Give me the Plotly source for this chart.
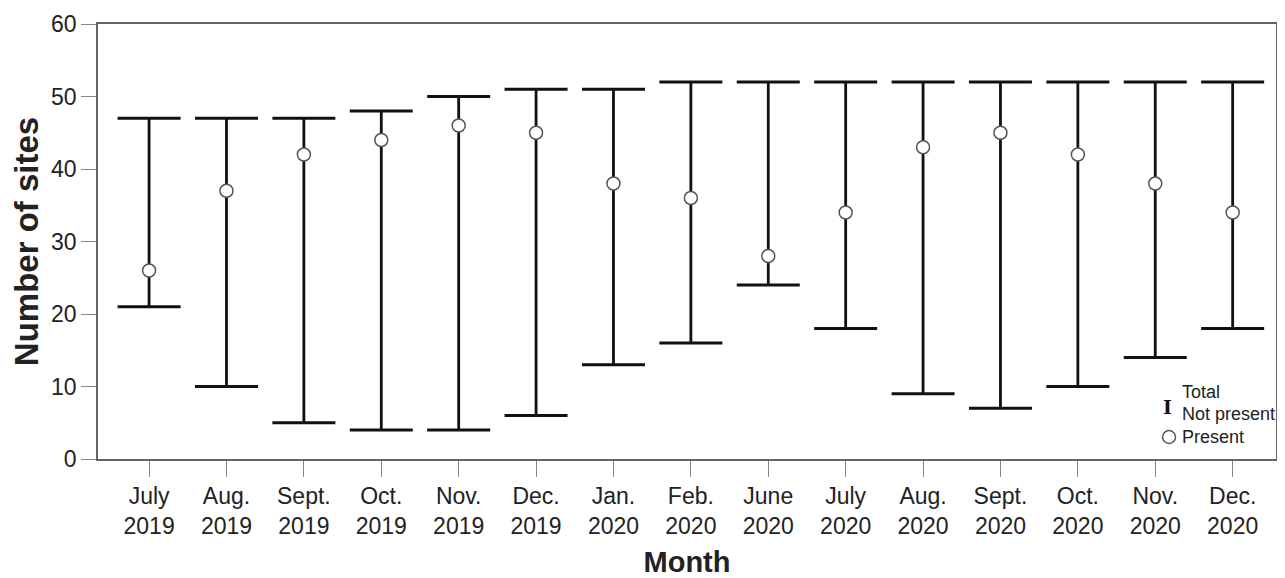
import plotly.graph_objects as go

months = ["July<br>2019", "Aug.<br>2019", "Sept.<br>2019", "Oct.<br>2019", "Nov.<br>2019",
          "Dec.<br>2019", "Jan.<br>2020", "Feb.<br>2020", "June<br>2020", "July<br>2020",
          "Aug.<br>2020", "Sept.<br>2020", "Oct.<br>2020", "Nov.<br>2020", "Dec.<br>2020"]
total = [47, 47, 47, 48, 50, 51, 51, 52, 52, 52, 52, 52, 52, 52, 52]
not_present = [21, 10, 5, 4, 4, 6, 13, 16, 24, 18, 9, 7, 10, 14, 18]
present = [26, 37, 42, 44, 46, 45, 38, 36, 28, 34, 43, 45, 42, 38, 34]
y_ticks = [0, 10, 20, 30, 40, 50, 60]

xs = list(range(len(months)))
up = [t - p for t, p in zip(total, present)]
down = [p - n for p, n in zip(present, not_present)]

font_family = "Liberation Sans, Arial, sans-serif"

fig = go.Figure()
fig.add_trace(go.Scatter(
    x=xs, y=present, mode="markers",
    marker=dict(size=1, color="rgba(0,0,0,0)"),
    error_y=dict(type="data", symmetric=False, array=up, arrayminus=down,
                 color="#111", thickness=2.8, width=31.5),
    showlegend=False, hoverinfo="skip"))
fig.add_trace(go.Scatter(
    x=xs, y=present, mode="markers",
    marker=dict(size=13, color="white", line=dict(color="#555", width=1.5)),
    showlegend=False))

# page body has an 8px margin, so the figure is sized/offset to compensate
fig.update_layout(
    width=1269, height=570,
    margin=dict(l=90, r=1, t=16, b=119),
    plot_bgcolor="white", paper_bgcolor="white",
    font=dict(family=font_family, color="#222", size=23),
    xaxis=dict(range=[-0.66, 14.56], tickmode="array",
               tickvals=xs, ticktext=months, ticks="outside", ticklen=16,
               tickcolor="#888", tickwidth=1.3, showline=True, linecolor="#666",
               linewidth=1.6, mirror=True, showgrid=False, zeroline=False,
               automargin=False, tickfont=dict(size=23),
               title=dict(text="<b>Month</b>", font=dict(size=29), standoff=19)),
    yaxis=dict(range=[0, 60], tickvals=y_ticks,
               ticks="outside", ticklen=15, tickcolor="#888", tickwidth=1.3,
               showline=True, linecolor="#666", linewidth=1.6, mirror=True,
               showgrid=False, zeroline=False, automargin=False,
               tickfont=dict(size=23),
               title=dict(text="<b>Number of sites</b>", font=dict(size=33), standoff=13)),
)

# legend (custom)
fig.add_annotation(xref="paper", yref="paper", x=0.9083, y=0.1195, text="<b>I</b>",
                   showarrow=False, font=dict(size=19, family="DejaVu Serif", color="#111"),
                   xanchor="center", yanchor="middle")
fig.add_annotation(xref="paper", yref="paper", x=0.9185, y=0.154, text="Total",
                   showarrow=False, font=dict(size=18), xanchor="left", yanchor="middle")
fig.add_annotation(xref="paper", yref="paper", x=0.9185, y=0.103, text="Not present",
                   showarrow=False, font=dict(size=18), xanchor="left", yanchor="middle")
fig.add_annotation(xref="paper", yref="paper", x=0.9185, y=0.0506, text="Present",
                   showarrow=False, font=dict(size=18), xanchor="left", yanchor="middle")
fig.add_shape(type="circle", xref="paper", yref="paper",
              x0=0.9037, x1=0.9147, y0=0.0357, y1=0.0655,
              line=dict(color="#555", width=1.5), fillcolor="white")

fig.write_html("out.html")
